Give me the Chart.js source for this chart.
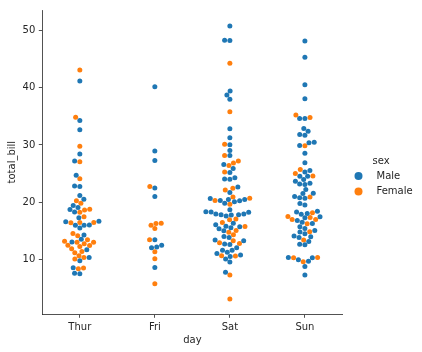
<!DOCTYPE html>
<html>
<head>
<meta charset="utf-8">
<script src="https://cdn.jsdelivr.net/npm/chart.js@4.4.1/dist/chart.umd.min.js"></script>
<style>
  html, body { margin: 0; padding: 0; background: #fff; }
  canvas { display: block; }
</style>
</head>
<body>
<canvas id="chart" width="422" height="352"></canvas>
<script>
// Data (total_bill by day and sex)
const days = ['Thur', 'Fri', 'Sat', 'Sun'];
const yTicks = [10, 20, 30, 40, 50];

const thurMale = [27.2, 22.76, 17.29, 19.44, 16.66, 32.68, 15.98, 13.03, 18.28, 24.71, 21.16, 11.69, 14.26, 15.95, 8.52, 22.82, 19.08, 16.0, 34.3, 41.19, 9.78, 7.51, 28.44, 15.48, 16.58, 7.56, 10.34, 13.51, 18.71, 20.53];
const thurFemale = [10.07, 34.83, 10.65, 12.43, 24.08, 13.42, 12.48, 29.8, 14.52, 11.38, 20.27, 11.17, 12.26, 18.26, 8.51, 10.33, 14.15, 13.16, 17.47, 27.05, 16.43, 8.35, 18.64, 11.87, 19.81, 43.11, 13.0, 12.74, 13.0, 16.4, 16.47, 18.78];
const friMale = [28.97, 22.49, 40.17, 27.28, 12.03, 21.01, 12.46, 12.16, 8.58, 13.42];
const friFemale = [5.75, 16.32, 22.75, 11.35, 15.38, 13.42, 15.98, 16.27, 10.09];
const satMale = [20.65, 17.92, 39.42, 19.82, 17.81, 13.37, 12.69, 21.7, 9.55, 18.35, 17.78, 24.06, 16.31, 18.69, 31.27, 16.04, 38.01, 11.24, 48.27, 20.29, 13.81, 11.02, 18.29, 17.59, 20.08, 20.23, 15.01, 12.02, 10.51, 17.92, 15.36, 20.49, 25.21, 18.24, 14.0, 50.81, 15.81, 26.59, 38.73, 24.27, 30.06, 25.89, 48.33, 28.15, 11.59, 7.74, 20.45, 13.28, 24.01, 15.69, 11.61, 10.77, 15.53, 10.07, 12.6, 32.83, 29.03, 22.67, 17.82];
const satFemale = [20.29, 15.77, 19.65, 15.06, 20.69, 16.93, 26.41, 16.45, 3.07, 17.07, 26.86, 25.28, 14.73, 44.3, 22.42, 20.92, 14.31, 7.25, 10.59, 10.63, 12.76, 13.27, 28.17, 12.9, 30.14, 22.12, 35.83, 27.18];
const sunMale = [10.34, 21.01, 23.68, 25.29, 8.77, 26.88, 15.04, 14.78, 10.27, 15.42, 18.43, 21.58, 16.29, 17.46, 13.94, 9.68, 30.4, 18.29, 22.23, 32.4, 28.55, 18.04, 12.54, 9.94, 25.56, 19.49, 38.07, 23.95, 29.93, 14.07, 13.13, 17.26, 24.55, 19.77, 48.17, 16.49, 21.5, 12.66, 13.81, 24.52, 20.76, 31.71, 7.25, 31.85, 16.82, 32.9, 17.89, 14.48, 34.63, 34.65, 23.33, 45.35, 23.17, 40.55, 20.69, 30.46, 23.1, 15.69];
const sunFemale = [16.99, 24.59, 35.26, 14.83, 10.33, 16.97, 10.29, 34.81, 25.71, 17.31, 29.85, 25.0, 13.39, 16.21, 17.51, 9.6, 20.9, 18.15];

const maleByDay = [thurMale, friMale, satMale, sunMale];
const femaleByDay = [thurFemale, friFemale, satFemale, sunFemale];

const BLUE = '#1f77b4';
const ORANGE = '#ff7f0e';
const TEXT = '#262626';
const FONT = { family: 'DejaVu Sans', size: 10 };

// Swarm layout (same idea as seaborn's beeswarm), works in pixels
function beeswarm(pts, d) {
    const order = pts.map((p, i) => i).sort((a, b) => pts[a].py - pts[b].py || a - b);
    const swarm = [];
    order.forEach(idx => {
        const y = pts[idx].py;
        const neighbors = [];
        for (let j = swarm.length - 1; j >= 0; j--) {
            if (y - swarm[j].y < d) neighbors.unshift(swarm[j]);
            else break;
        }
        const cands = [0];
        let leftFirst = true;
        neighbors.forEach(n => {
            const dy = y - n.y;
            const dx = Math.sqrt(Math.max(d * d - dy * dy, 0)) * 1.05;
            if (leftFirst) cands.push(n.x - dx, n.x + dx);
            else cands.push(n.x + dx, n.x - dx);
            leftFirst = !leftFirst;
        });
        const sorted = cands.map((c, i) => [c, i])
            .sort((a, b) => Math.abs(a[0]) - Math.abs(b[0]) || a[1] - b[1])
            .map(a => a[0]);
        let chosen = sorted[0];
        if (neighbors.length) {
            for (const c of sorted) {
                if (neighbors.every(n => (n.x - c) ** 2 + (n.y - y) ** 2 >= d * d)) {
                    chosen = c;
                    break;
                }
            }
        }
        pts[idx].off = chosen;
        swarm.push({ x: chosen, y: y });
    });
}

// Legend on the right
const sideLegend = {
    id: 'sideLegend',
    afterDraw(chart) {
        const ctx = chart.ctx;
        ctx.save();
        ctx.font = '10px "DejaVu Sans"';
        ctx.fillStyle = TEXT;
        ctx.textBaseline = 'middle';
        ctx.textAlign = 'center';
        ctx.fillText('sex', 381, 161);
        ctx.textAlign = 'left';
        [['Male', BLUE, 176], ['Female', ORANGE, 191.5]].forEach(([label, color, y]) => {
            ctx.fillStyle = color;
            ctx.beginPath();
            ctx.arc(358.5, y, 4, 0, Math.PI * 2);
            ctx.fill();
            ctx.fillStyle = TEXT;
            ctx.fillText(label, 376.5, y);
        });
        ctx.restore();
    }
};

const ctx = document.getElementById('chart').getContext('2d');
const chart = new Chart(ctx, {
    type: 'scatter',
    data: {
        datasets: [
            { label: 'Male', data: [], backgroundColor: BLUE, pointRadius: 2.5, pointBorderWidth: 0 },
            { label: 'Female', data: [], backgroundColor: ORANGE, pointRadius: 2.5, pointBorderWidth: 0 }
        ]
    },
    options: {
        responsive: false,
        animation: false,
        layout: { padding: { top: 10, right: 79.6, left: 0, bottom: 0 } },
        plugins: { legend: { display: false }, tooltip: { enabled: false } },
        scales: {
            x: {
                type: 'linear',
                min: -0.5,
                max: 3.5,
                afterBuildTicks: s => { s.ticks = days.map((d, i) => ({ value: i })); },
                afterFit: s => { s.height = 37.7; },
                ticks: { callback: v => days[v], font: FONT, color: TEXT, padding: 3.5, maxRotation: 0 },
                grid: { drawOnChartArea: false, drawTicks: true, tickLength: 3.5, tickColor: TEXT, tickWidth: 0.8 },
                border: { color: TEXT, width: 0.8 },
                title: { display: true, text: 'day', font: FONT, color: TEXT, padding: { top: 0, bottom: 6 } }
            },
            y: {
                type: 'linear',
                min: 0.4,
                max: 53.6,
                afterBuildTicks: s => { s.ticks = yTicks.map(v => ({ value: v })); },
                afterFit: s => { s.width = 42.3; },
                ticks: { font: FONT, color: TEXT, padding: 3.5 },
                grid: { drawOnChartArea: false, drawTicks: true, tickLength: 3.5, tickColor: TEXT, tickWidth: 0.8 },
                border: { color: TEXT, width: 0.8 },
                title: { display: true, text: 'total_bill', font: FONT, color: TEXT, padding: { top: 6, bottom: 0 } }
            }
        }
    },
    plugins: [sideLegend]
});

// Lay out the swarms with the real scales
function placeSwarms() {
    const xs = chart.scales.x, ys = chart.scales.y;
    const pxPerX = Math.abs(xs.getPixelForValue(1) - xs.getPixelForValue(0));
    const pxPerY = Math.abs(ys.getPixelForValue(1) - ys.getPixelForValue(0));
    const maleData = [], femaleData = [];
    days.forEach((day, i) => {
        const pts = [];
        maleByDay[i].forEach(v => pts.push({ v: v, py: v * pxPerY, sex: 'M' }));
        femaleByDay[i].forEach(v => pts.push({ v: v, py: v * pxPerY, sex: 'F' }));
        beeswarm(pts, 5);
        pts.forEach(p => {
            const pt = { x: i + p.off / pxPerX, y: p.v };
            (p.sex === 'M' ? maleData : femaleData).push(pt);
        });
    });
    chart.data.datasets[0].data = maleData;
    chart.data.datasets[1].data = femaleData;
    chart.update('none');
}
placeSwarms();
</script>
</body>
</html>
